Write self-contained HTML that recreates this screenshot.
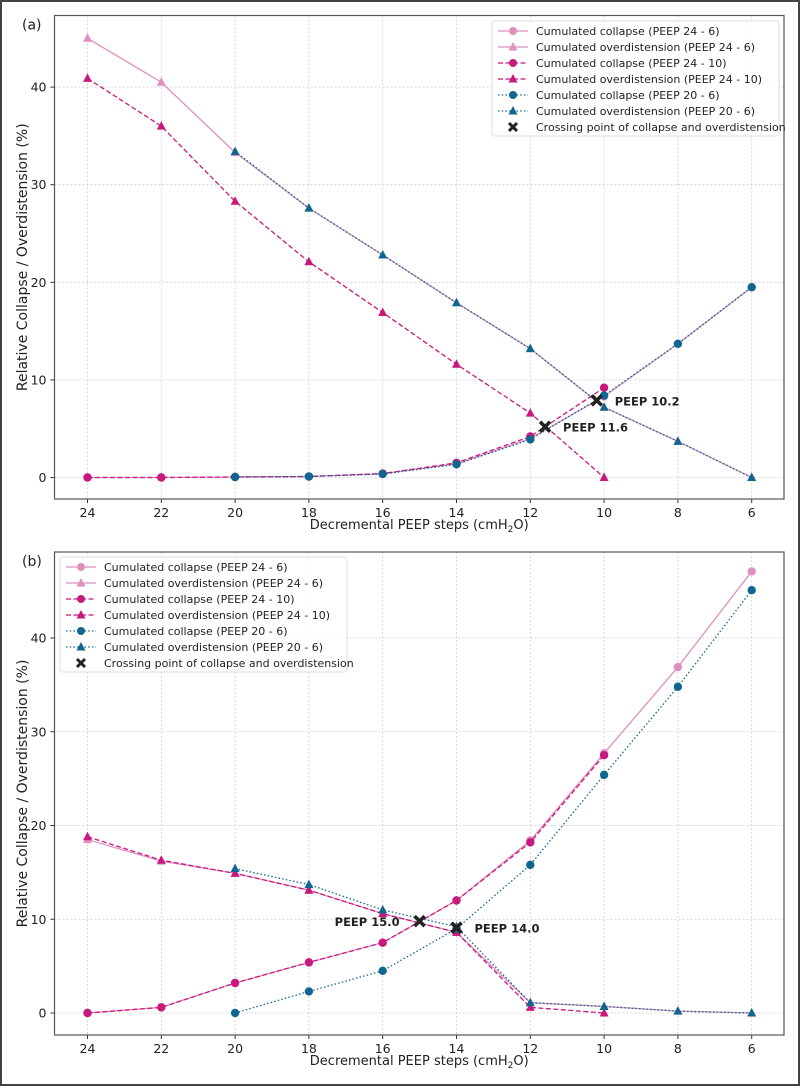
<!DOCTYPE html>
<html><head><meta charset="utf-8"><style>
body{margin:0;background:#fff;}
svg{display:block;font-family:"DejaVu Sans","Liberation Sans",sans-serif;}
</style></head><body>
<svg id="chart" width="800" height="1086" viewBox="0 0 800 1086">
<rect x="1" y="1" width="798" height="1084" fill="#fff" stroke="#444" stroke-width="2"/>
</svg>
<script>
const xCats = [24,22,20,18,16,14,12,10,8,6];
const xTicks = [24,22,20,18,16,14,12,10,8,6];
const yTicks = [0,10,20,30,40];
// Panel (a)
const aCol246 = [0,0,0.05,0.1,0.4,1.4,4.0,8.3,13.7,19.5];
const aOvr246 = [45,40.5,33.3,27.6,22.8,17.9,13.2,7.2,3.7,0];
const aCol2410 = [0,0,0.05,0.1,0.4,1.5,4.2,9.2];
const aOvr2410 = [40.9,36,28.3,22.1,16.9,11.6,6.6,0];
const aCol206 = [0.05,0.1,0.35,1.35,3.9,8.4,13.7,19.5];
const aOvr206 = [33.4,27.6,22.8,17.9,13.2,7.2,3.7,0];
const aCrossX = [11.6,10.2];
const aCrossY = [5.2,7.9];
// Panel (b)
const bCol246 = [0,0.6,3.2,5.4,7.5,12,18.4,27.7,36.9,47.1];
const bOvr246 = [18.5,16.2,14.9,13.1,10.6,8.6,1.1,0.7,0.2,0];
const bCol2410 = [0,0.6,3.2,5.4,7.5,12,18.2,27.5];
const bOvr2410 = [18.8,16.3,14.9,13.1,10.6,8.6,0.6,0];
const bCol206 = [0,2.3,4.5,9,15.8,25.4,34.8,45.1];
const bOvr206 = [15.4,13.7,11,9.2,1.1,0.7,0.2,0];
const bCrossX = [15.0,14.0];
const bCrossY = [9.8,9.1];

const NS="http://www.w3.org/2000/svg";
const svg=document.getElementById('chart');
function mk(tag,attrs,parent){const e=document.createElementNS(NS,tag);for(const k in attrs)e.setAttribute(k,attrs[k]);(parent||svg).appendChild(e);return e;}
const C1="#df8fc0",C2="#c8197f",C3="#0f6790";
const styles={solid:"",dash:"5,2.5",dot:"1.5,2.2"};

function panel(cfg){
  const L=54.5,R=784,T=cfg.top,B=cfg.bottom;
  const xs=v=>87.5+(24-v)*36.9;
  const ys=v=>cfg.y0-v*cfg.k;
  const g=mk('g',{});
  
  
  xTicks.forEach(t=>{const l=mk('line',{x1:xs(t),x2:xs(t),y1:T,y2:B,stroke:"#ccc","stroke-width":0.8,"stroke-dasharray":"2,2"},g);
    
    const tk=mk('line',{x1:xs(t),x2:xs(t),y1:B,y2:B+4,stroke:"#333"},g);
    
    const tx=mk('text',{x:xs(t),y:B+18,"text-anchor":"middle","font-size":12.5,fill:"#222"},g);tx.textContent=t;
    });
  yTicks.forEach(t=>{const l=mk('line',{x1:L,x2:R,y1:ys(t),y2:ys(t),stroke:"#ccc","stroke-width":0.8,"stroke-dasharray":"2,2"},g);
    
    const tk=mk('line',{x1:L-4,x2:L,y1:ys(t),y2:ys(t),stroke:"#333"},g);
    
    const tx=mk('text',{x:L-8,y:ys(t)+4.5,"text-anchor":"end","font-size":12.5,fill:"#222"},g);tx.textContent=t;
    });
  function series(vals,start,color,style,marker,name){
    const pts=vals.map((v,i)=>[xs(xCats[start+i]),ys(v)]);
    const p=mk('polyline',{points:pts.map(p=>p.join(',')).join(' '),fill:"none",stroke:color,"stroke-width":1.3,"stroke-dasharray":styles[style]},g);
    
    pts.forEach(([x,y])=>{let m;
      if(marker==='o')m=mk('circle',{cx:x,cy:y,r:4.2,fill:color},g);
      else m=mk('polygon',{points:`${x},${y-5} ${x-4.5},${y+3.5} ${x+4.5},${y+3.5}`,fill:color},g);
      });
  }
  const d=cfg.data;
  series(d[0],0,C1,'solid','o','collapse-24-6');
  series(d[1],0,C1,'solid','^','overdistension-24-6');
  series(d[2],0,C2,'dash','o','collapse-24-10');
  series(d[3],0,C2,'dash','^','overdistension-24-10');
  series(d[4],2,C3,'dot','o','collapse-20-6');
  series(d[5],2,C3,'dot','^','overdistension-20-6');
  cfg.cx.forEach((cx,i)=>{const x=xs(cx),y=ys(cfg.cy[i]);
    const m=mk('path',{d:`M${x-5},${y-5}L${x+5},${y+5}M${x+5},${y-5}L${x-5},${y+5}`,stroke:"#222","stroke-width":3.6},g);
    
    const t=mk('text',{x:x+cfg.lx[i],y:y+5,"font-size":11.5,"font-weight":"bold",fill:"#222","text-anchor":cfg.la[i]},g);
    t.textContent='PEEP '+cx.toFixed(1);
    });
  const fr=mk('rect',{x:L,y:T,width:R-L,height:B-T,fill:"none",stroke:"#555","stroke-width":1.2},g);
  
  const xl=mk('text',{x:(L+R)/2,y:B+30,"text-anchor":"middle","font-size":13,fill:"#222"},g);
  xl.innerHTML='Decremental PEEP steps (cmH<tspan font-size="9" dy="3">2</tspan><tspan dy="-3">O)</tspan>';
  
  const cy=(T+B)/2;
  const yl=mk('text',{x:27,y:cy,"text-anchor":"middle","font-size":14,fill:"#222",transform:`rotate(-90 27 ${cy})`},g);
  yl.textContent='Relative Collapse / Overdistension (%)';
  
  const pl=mk('text',{x:22,y:T+14,"font-size":14,fill:"#222"},g);pl.textContent=cfg.label;
  
  const lx=cfg.legX,ly=cfg.legY;
  const lb=mk('rect',{x:lx,y:ly,width:287,height:115,rx:3,fill:"#fff","fill-opacity":0.85,stroke:"#ddd"},g);
  
  const entries=[[C1,'solid','o','Cumulated collapse (PEEP 24 - 6)'],[C1,'solid','^','Cumulated overdistension (PEEP 24 - 6)'],
    [C2,'dash','o','Cumulated collapse (PEEP 24 - 10)'],[C2,'dash','^','Cumulated overdistension (PEEP 24 - 10)'],
    [C3,'dot','o','Cumulated collapse (PEEP 20 - 6)'],[C3,'dot','^','Cumulated overdistension (PEEP 20 - 6)'],
    ['#222','none','x','Crossing point of collapse and overdistension']];
  entries.forEach((e,i)=>{const y=ly+10+i*16,x0=lx+6,xm=lx+21;
    const eg=mk('g',{},g);
    if(e[1]!=='none')mk('line',{x1:x0,x2:x0+30,y1:y,y2:y,stroke:e[0],"stroke-width":1.3,"stroke-dasharray":styles[e[1]]},eg);
    if(e[2]==='o')mk('circle',{cx:xm,cy:y,r:4,fill:e[0]},eg);
    else if(e[2]==='^')mk('polygon',{points:`${xm},${y-5} ${xm-4.5},${y+3.5} ${xm+4.5},${y+3.5}`,fill:e[0]},eg);
    else mk('path',{d:`M${xm-4},${y-4}L${xm+4},${y+4}M${xm+4},${y-4}L${xm-4},${y+4}`,stroke:e[0],"stroke-width":3},eg);
    const t=mk('text',{x:lx+44,y:y+4,"font-size":11,fill:"#222"},eg);t.textContent=e[3];});
}
panel({name:'panel-a',label:'(a)',top:15.5,bottom:499,y0:477.5,k:9.76,
  data:[aCol246,aOvr246,aCol2410,aOvr2410,aCol206,aOvr206],cx:aCrossX,cy:aCrossY,lx:[18,18],la:['start','start'],legX:492,legY:21});
panel({name:'panel-b',label:'(b)',top:552,bottom:1035,y0:1013,k:9.375,
  data:[bCol246,bOvr246,bCol2410,bOvr2410,bCol206,bOvr206],cx:bCrossX,cy:bCrossY,lx:[-20,18],la:['end','start'],legX:60,legY:557});
</script>
</body></html>
